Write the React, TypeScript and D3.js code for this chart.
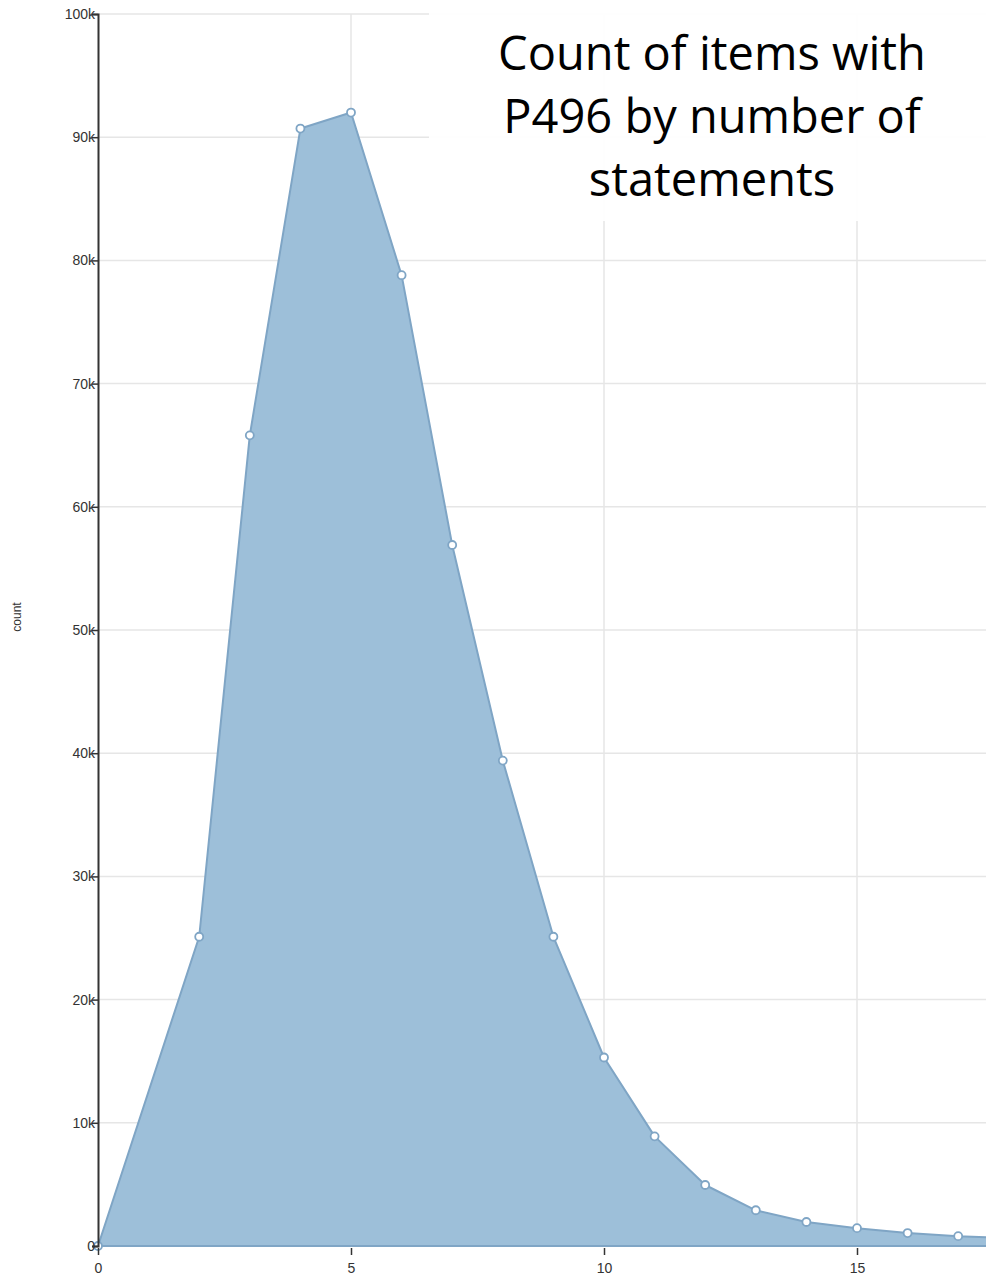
import { useEffect, useRef } from "react";
import * as d3 from "d3";

// number of statements per item, and how many items have that many
const statements = [0, 2, 3, 4, 5, 6, 7, 8, 9, 10, 11, 12, 13, 14, 15, 16, 17, 18];
const counts = [0, 25100, 65800, 90700, 92000, 78800, 56900, 39400, 25100, 15300, 8900, 4950, 2900, 1950, 1450, 1050, 800, 650];
const yTicks = [0, 10000, 20000, 30000, 40000, 50000, 60000, 70000, 80000, 90000, 100000];
const xTicks = [0, 5, 10, 15];
const titleLines = ["Count of items with", "P496 by number of", "statements"];

const W = 986;
const H = 1282;

export default function App() {
  const ref = useRef<SVGSVGElement>(null);

  useEffect(() => {
    const svg = d3.select(ref.current);
    svg.selectAll("*").remove();

    const x = d3.scaleLinear().domain([0, 15]).range([98, 857]);
    const y = d3.scaleLinear().domain([0, 100000]).range([1246, 14]);

    const data = statements.map((s, i) => ({ s, c: counts[i] }));

    // grid
    svg
      .append("g")
      .selectAll("line")
      .data(yTicks)
      .enter()
      .append("line")
      .attr("x1", x(0))
      .attr("x2", W)
      .attr("y1", (d) => y(d))
      .attr("y2", (d) => y(d))
      .attr("stroke", "#e6e6e6")
      .attr("stroke-width", 1.5);

    svg
      .append("g")
      .selectAll("line")
      .data(xTicks.slice(1))
      .enter()
      .append("line")
      .attr("x1", (d) => x(d))
      .attr("x2", (d) => x(d))
      .attr("y1", y(100000))
      .attr("y2", y(0))
      .attr("stroke", "#e6e6e6")
      .attr("stroke-width", 1.5);

    // area
    const area = d3
      .area<{ s: number; c: number }>()
      .x((d) => x(d.s))
      .y0(y(0))
      .y1((d) => y(d.c));

    svg
      .append("path")
      .datum(data)
      .attr("d", area)
      .attr("fill", "#9dbfd9")
      .attr("stroke", "#7fa5c5")
      .attr("stroke-width", 2)
      .attr("stroke-linejoin", "round");

    svg
      .append("g")
      .selectAll("circle")
      .data(data)
      .enter()
      .append("circle")
      .attr("cx", (d) => x(d.s))
      .attr("cy", (d) => y(d.c))
      .attr("r", 4)
      .attr("fill", "#ffffff")
      .attr("stroke", "#7fa5c5")
      .attr("stroke-width", 1.8);

    // y axis
    const yAxis = d3
      .axisLeft(y)
      .tickValues(yTicks)
      .tickSize(6)
      .tickPadding(-3)
      .tickFormat((d) => (d === 0 ? "0" : (d as number) / 1000 + "k"));
    const gy = svg.append("g").attr("transform", `translate(${x(0)},0)`).call(yAxis);
    gy.select(".domain").attr("stroke", "#333").attr("stroke-width", 2);
    gy.selectAll(".tick line").attr("stroke", "#333").attr("stroke-width", 1.5);
    gy.selectAll("text")
      .attr("font-family", "'Liberation Sans', Arial, sans-serif")
      .attr("font-size", 14)
      .attr("fill", "#333");

    // x axis
    const xAxis = d3
      .axisBottom(x)
      .tickValues(xTicks)
      .tickSize(7)
      .tickPadding(8)
      .tickFormat(d3.format("d"));
    const gx = svg.append("g").attr("transform", `translate(0,${y(0) + 2})`).call(xAxis);
    gx.select(".domain").remove();
    gx.selectAll(".tick line").attr("stroke", "#333").attr("stroke-width", 1.5);
    gx.selectAll("text")
      .attr("font-family", "'Liberation Sans', Arial, sans-serif")
      .attr("font-size", 14)
      .attr("fill", "#333");

    svg
      .append("text")
      .attr("transform", `translate(21,617) rotate(-90)`)
      .attr("text-anchor", "middle")
      .attr("font-family", "'Liberation Sans', Arial, sans-serif")
      .attr("font-size", 12)
      .attr("fill", "#333")
      .text("count");

    // title box
    svg
      .append("rect")
      .attr("x", 429)
      .attr("y", 0)
      .attr("width", W - 429)
      .attr("height", 221)
      .attr("fill", "#ffffff")
      .attr("opacity", 0.93);

    svg
      .append("g")
      .selectAll("text")
      .data(titleLines)
      .enter()
      .append("text")
      .attr("x", 712)
      .attr("y", (_, i) => 70 + i * 63)
      .attr("text-anchor", "middle")
      .attr("font-family", "'Open Sans', 'Noto Sans', sans-serif")
      .attr("font-size", 47)
      .attr("fill", "#000")
      .text((d) => d);
  }, []);

  return (
    <div style={{ position: "absolute", left: 0, top: 0, width: W, height: H, background: "#fff" }}>
      <svg ref={ref} width={W} height={H} style={{ display: "block" }} />
    </div>
  );
}
